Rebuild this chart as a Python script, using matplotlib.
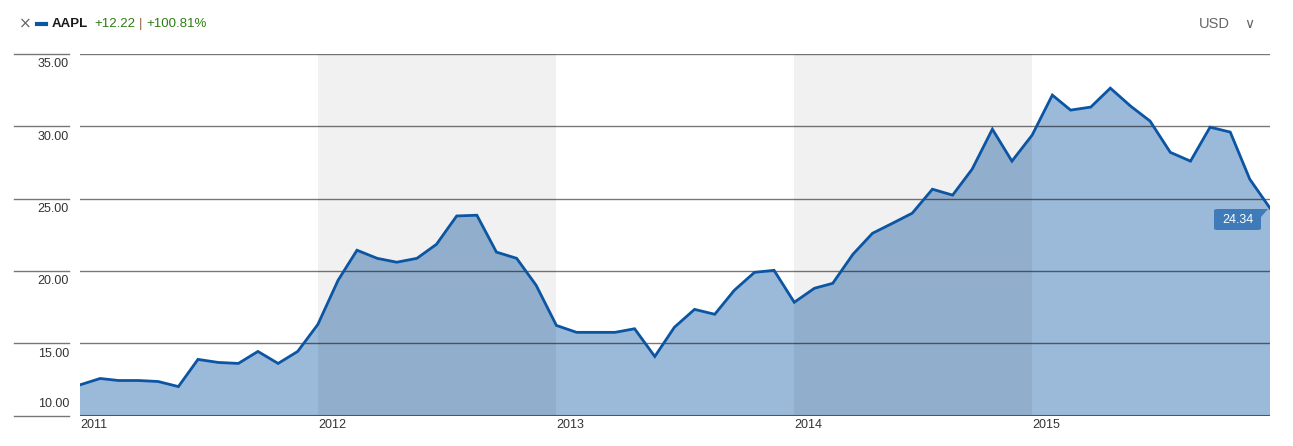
import matplotlib
matplotlib.use("Agg")
import matplotlib.pyplot as plt
import matplotlib.dates as mdates
from matplotlib.lines import Line2D
from matplotlib.patches import FancyBboxPatch, Polygon
from matplotlib.transforms import blended_transform_factory
import pandas as pd

plt.rcParams["font.family"] = ["Liberation Sans", "DejaVu Sans"]

# monthly closes, Jan 2011 .. Jan 2016
prices = [
    12.12, 12.56, 12.42, 12.42, 12.35, 12.00, 13.88, 13.67, 13.60, 14.43, 13.60, 14.43,
    16.30, 19.35, 21.43, 20.87, 20.60, 20.87, 21.84, 23.80, 23.85, 21.30, 20.87, 19.00,
    16.23, 15.75, 15.75, 15.75, 16.00, 14.08, 16.10, 17.34, 17.00, 18.66, 19.90, 20.04,
    17.83, 18.80, 19.14, 21.15, 22.60, 23.30, 23.99, 25.65, 25.24, 27.04, 29.80, 27.59,
    29.39, 32.16, 31.12, 31.33, 32.64, 31.40, 30.36, 28.20, 27.59, 29.94, 29.60, 26.34,
    24.34,
]
dates = pd.date_range("2011-01-01", periods=len(prices), freq="MS")
year_labels = ["2011", "2012", "2013", "2014", "2015"]
shaded_years = ["2012", "2014"]
y_ticks = [10, 15, 20, 25, 30, 35]

W, H = 1293, 446
fig = plt.figure(figsize=(W / 100, H / 100), dpi=100)
ax = fig.add_axes([80 / W, (H - 415.5) / H, 1190 / W, (415.5 - 54) / H])

line_color = "#0b55a3"
fill_color = "#9bb9d9"

ax.fill_between(dates, prices, 0, color=fill_color, lw=0, zorder=1)
ax.plot(dates, prices, color=line_color, lw=2, zorder=4, solid_joinstyle="miter")

# alternating year bands
for yr in shaded_years:
    start = pd.Timestamp(f"{yr}-01-01")
    end = pd.Timestamp(f"{int(yr) + 1}-01-01")
    ax.axvspan(start, end, color="black", alpha=0.055, lw=0, zorder=2)

ax.set_xlim(dates[0], dates[-1])
ax.set_ylim(10, 35)

# gridlines
for v in y_ticks[1:]:
    ax.axhline(v, color="black", alpha=0.53, lw=1, zorder=3)
ax.axhline(10, color="#555555", lw=1.5, zorder=5)

for s in ax.spines.values():
    s.set_visible(False)
ax.set_yticks([])
ax.set_xticks([])

# y labels in the left column: below each line, except the bottom one
trans = blended_transform_factory(fig.transFigure, ax.transData)
for v in y_ticks:
    fig.add_artist(Line2D([14 / W, 69 / W], [v, v], transform=trans,
                          color="#777777", lw=1))
    if v == y_ticks[0]:
        ax.text(69 / W, v + 0.35, f"{v:.2f}", transform=trans, ha="right",
                va="bottom", fontsize=9, color="#333333")
    else:
        ax.text(69 / W, v - 0.3, f"{v:.2f}", transform=trans, ha="right",
                va="top", fontsize=9, color="#333333")

# year labels
xtrans = blended_transform_factory(ax.transData, fig.transFigure)
for lab in year_labels:
    ax.text(mdates.date2num(pd.Timestamp(f"{lab}-01-01")), (H - 419) / H, lab,
            transform=xtrans, ha="left", va="top", fontsize=9, color="#333333")

# last value badge
bx, by, bw, bh = 1214, 209, 47, 21
badge = FancyBboxPatch((bx / W, (H - by - bh) / H), bw / W, bh / H,
                       boxstyle="round,pad=0,rounding_size=0.003",
                       transform=fig.transFigure, facecolor="#3f7bb9",
                       edgecolor="none", zorder=10)
fig.add_artist(badge)
fig.add_artist(Polygon([[1255 / W, (H - 209) / H], [1268 / W, (H - 209) / H],
                        [1261 / W, (H - 217) / H]], closed=True,
                       transform=fig.transFigure, facecolor="#3f7bb9",
                       edgecolor="none", zorder=10))
fig.text((bx + bw / 2) / W, (H - by - bh / 2) / H, f"{prices[-1]:.2f}",
         ha="center", va="center", fontsize=9, color="white", zorder=11)

# header, laid out left to right
hy = (H - 24) / H
fig.text(19 / W, hy, "×", ha="left", va="center", fontsize=11, color="#666666",
         family="DejaVu Sans")
fig.add_artist(Line2D([37 / W, 46 / W], [hy, hy], transform=fig.transFigure,
                      color=line_color, lw=3))
renderer = fig.canvas.get_renderer()
x = 52
for txt, col, wt, gap in [("AAPL", "#1a1a1a", "bold", 6),
                          ("+12.22", "#2e7d16", "normal", 4),
                          ("|", "#9a6a4a", "normal", 4),
                          ("+100.81%", "#2e7d16", "normal", 0)]:
    t = fig.text(x / W, hy, txt, ha="left", va="center", fontsize=9.5,
                 color=col, weight=wt)
    x += t.get_window_extent(renderer).width + gap
fig.text(1199 / W, hy, "USD", ha="left", va="center", fontsize=10.5, color="#666666")
fig.text(1244 / W, hy, "∨", ha="left", va="center", fontsize=10, color="#666666",
         family="DejaVu Sans")

fig.savefig("out.png", dpi=100, facecolor="white")
